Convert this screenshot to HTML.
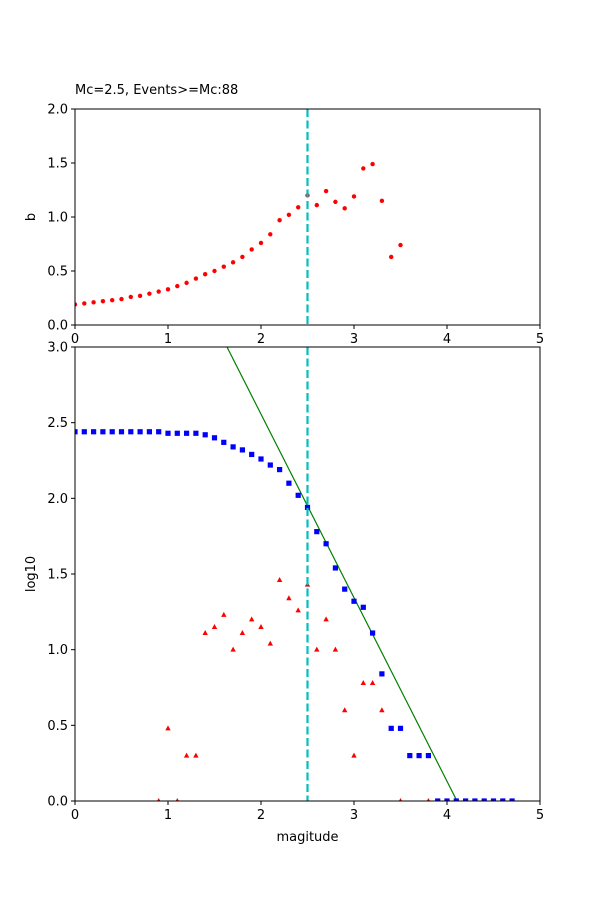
<!DOCTYPE html>
<html><head><meta charset="utf-8"><style>body{margin:0;background:#fff}svg{display:block}text{font-family:"DejaVu Sans","Liberation Sans",sans-serif;font-size:13px;fill:#000}</style></head>
<body>
<svg id="s" width="600" height="900" xmlns="http://www.w3.org/2000/svg"></svg>
<script>
const s=document.getElementById('s');let h='';
const X=m=>75+m*93;
const Yt=b=>325-b*108;
const Yb=v=>801-v*151.33;
// top axes
const bt=[0.19,0.2,0.21,0.22,0.23,0.24,0.26,0.27,0.29,0.31,0.33,0.36,0.39,0.43,0.47,0.5,0.54,0.58,0.63,0.7,0.76,0.84,0.97,1.02,1.09,1.2,1.11,1.24,1.14,1.08,1.19,1.45,1.49,1.15,0.63,0.74];
h+='<defs><clipPath id="c1"><rect x="75" y="109" width="465" height="216"/></clipPath><clipPath id="c2"><rect x="75" y="347" width="465" height="454"/></clipPath></defs>';
h+='<g clip-path="url(#c1)">';
bt.forEach((b,i)=>{h+=`<circle cx="${X(i*0.1)}" cy="${Yt(b)}" r="2.2" fill="red"/>`});
h+=`<line x1="307.5" y1="109" x2="307.5" y2="325" stroke="#00bfbf" stroke-width="2.2" stroke-dasharray="8,3.5"/></g>`;
h+='<rect x="75" y="109" width="465" height="216" fill="none" stroke="#000" stroke-width="1"/>';
for(let i=0;i<=5;i++){h+=`<line x1="${X(i)}" y1="325" x2="${X(i)}" y2="329" stroke="#000"/><text x="${X(i)}" y="343" text-anchor="middle">${i}</text>`}
[0,0.5,1,1.5,2].forEach(v=>{h+=`<line x1="71" y1="${Yt(v)}" x2="75" y2="${Yt(v)}" stroke="#000"/><text x="68" y="${Yt(v)+4.5}" text-anchor="end">${v.toFixed(1)}</text>`});
h+='<text x="75" y="94">Mc=2.5, Events&gt;=Mc:88</text>';
h+='<text transform="translate(35,217) rotate(-90)" text-anchor="middle">b</text>';
// bottom
const bl=[2.44,2.44,2.44,2.44,2.44,2.44,2.44,2.44,2.44,2.44,2.43,2.43,2.43,2.43,2.42,2.40,2.37,2.34,2.32,2.29,2.26,2.22,2.19,2.10,2.02,1.94,1.78,1.70,1.54,1.40,1.32,1.28,1.11,0.84,0.48,0.48,0.30,0.30,0.30,0,0,0,0,0,0,0,0,0];
const tr=[[0.9,0],[1.0,0.48],[1.1,0],[1.2,0.3],[1.3,0.3],[1.4,1.11],[1.5,1.15],[1.6,1.23],[1.7,1.0],[1.8,1.11],[1.9,1.2],[2.0,1.15],[2.1,1.04],[2.2,1.46],[2.3,1.34],[2.4,1.26],[2.5,1.43],[2.6,1.0],[2.7,1.2],[2.8,1.0],[2.9,0.6],[3.0,0.3],[3.1,0.78],[3.2,0.78],[3.3,0.6],[3.5,0],[3.8,0]];
h+='<g clip-path="url(#c2)">';
h+='<line x1="227" y1="347" x2="457" y2="801" stroke="green" stroke-width="1.2"/>';
bl.forEach((v,i)=>{const x=X(i*0.1),y=Yb(v);h+=`<rect x="${x-2.6}" y="${y-2.6}" width="5.2" height="5.2" fill="blue"/>`});
tr.forEach(([m,v])=>{const x=X(m),y=Yb(v);h+=`<polygon points="${x},${y-3} ${x-2.7},${y+2} ${x+2.7},${y+2}" fill="red"/>`});
h+=`<line x1="307.5" y1="347" x2="307.5" y2="801" stroke="#00bfbf" stroke-width="2.2" stroke-dasharray="8,3.5"/></g>`;
h+='<rect x="75" y="347" width="465" height="454" fill="none" stroke="#000" stroke-width="1"/>';
for(let i=0;i<=5;i++){h+=`<line x1="${X(i)}" y1="801" x2="${X(i)}" y2="805" stroke="#000"/><text x="${X(i)}" y="819" text-anchor="middle">${i}</text>`}
[0,0.5,1,1.5,2,2.5,3].forEach(v=>{h+=`<line x1="71" y1="${Yb(v)}" x2="75" y2="${Yb(v)}" stroke="#000"/><text x="68" y="${Yb(v)+4.5}" text-anchor="end">${v.toFixed(1)}</text>`});
h+='<text x="307.5" y="841" text-anchor="middle">magitude</text>';
h+='<text transform="translate(35,574) rotate(-90)" text-anchor="middle">log10</text>';
s.innerHTML=h;
</script>
</body></html>
